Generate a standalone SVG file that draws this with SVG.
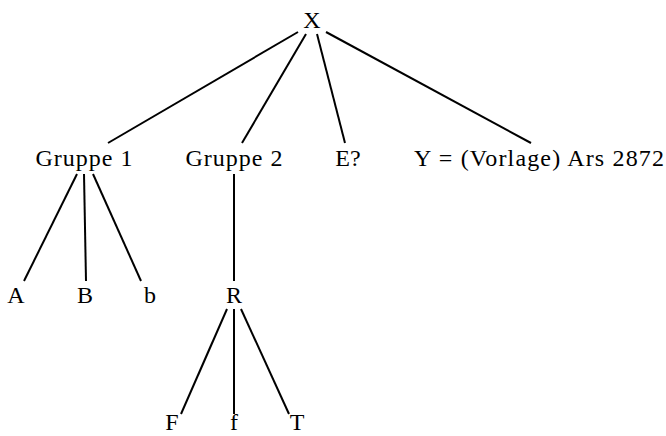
<svg xmlns="http://www.w3.org/2000/svg" width="666" height="436" viewBox="0 0 666 436">
<style>
text{font-family:"Liberation Serif","DejaVu Serif",serif;font-size:24px;fill:#000;text-anchor:middle}
.e line{stroke:#000;stroke-width:2;stroke-linecap:butt}
</style>
<rect width="666" height="436" fill="#fff"/>
<g class="e" id="connectors">
<line x1="298" y1="32" x2="108" y2="143"/>
<line x1="306" y1="34" x2="242" y2="143"/>
<line x1="317" y1="34" x2="345" y2="143"/>
<line x1="326" y1="32" x2="531" y2="143"/>
<line x1="77" y1="174" x2="24" y2="281"/>
<line x1="84" y1="174" x2="86" y2="281"/>
<line x1="93" y1="174" x2="141" y2="281"/>
<line x1="234" y1="174" x2="234" y2="281"/>
<line x1="227" y1="309" x2="181" y2="414"/>
<line x1="234" y1="309" x2="234" y2="414"/>
<line x1="241" y1="309" x2="289" y2="414"/>
</g>
<g id="nX"><text x="312" y="28">X</text></g>
<g id="nG1"><text x="84" y="166" textLength="97" lengthAdjust="spacing">Gruppe 1</text></g>
<g id="nG2"><text x="234" y="166" textLength="97" lengthAdjust="spacing">Gruppe 2</text></g>
<g id="nE"><text x="348" y="166">E?</text></g>
<g id="nY"><text x="539" y="166" textLength="250" lengthAdjust="spacing">Y = (Vorlage) Ars 2872</text></g>
<g id="nA"><text x="16" y="303">A</text></g>
<g id="nB"><text x="85" y="303">B</text></g>
<g id="nb"><text x="150" y="303">b</text></g>
<g id="nR"><text x="234" y="303">R</text></g>
<g id="nF"><text x="172" y="430">F</text></g>
<g id="nf"><text x="234" y="430">f</text></g>
<g id="nT"><text x="297" y="430">T</text></g>
</svg>
